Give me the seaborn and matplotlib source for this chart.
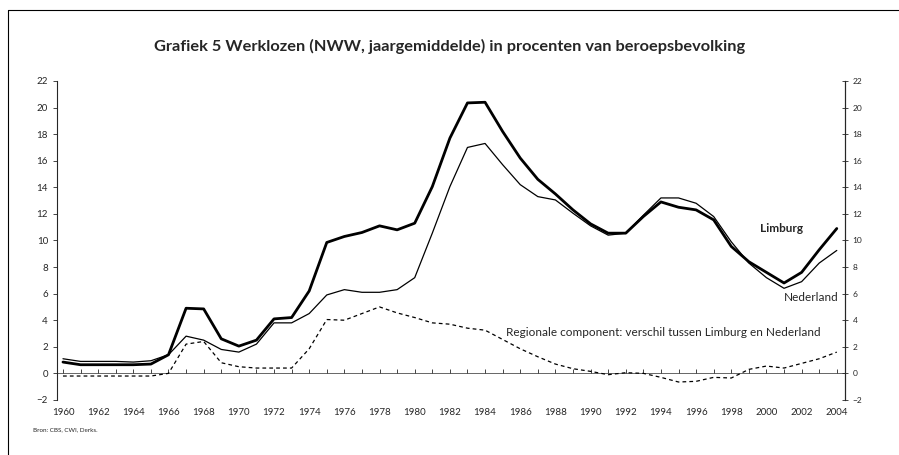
import pandas as pd
import numpy as np
import matplotlib.pyplot as plt
import seaborn as sns

# Data (% of labour force)
years = list(range(1960, 2005))
limburg = [0.85, 0.65, 0.65, 0.65, 0.65, 0.7, 1.4, 4.9, 4.85, 2.6,
           2.05, 2.5, 4.1, 4.2, 6.2, 9.85, 10.3, 10.6, 11.1, 10.8,
           11.3, 14.05, 17.7, 20.35, 20.4, 18.2, 16.2, 14.6, 13.5, 12.3,
           11.25, 10.55, 10.55, 11.8, 12.9, 12.5, 12.3, 11.55, 9.55, 8.4,
           7.6, 6.8, 7.6, 9.3, 10.9]
nederland = [1.1, 0.9, 0.9, 0.9, 0.85, 0.95, 1.4, 2.8, 2.5, 1.8,
             1.6, 2.2, 3.8, 3.8, 4.5, 5.9, 6.3, 6.1, 6.1, 6.3,
             7.2, 10.55, 14.05, 17.0, 17.3, 15.7, 14.2, 13.3, 13.05, 12.05,
             11.1, 10.4, 10.55, 11.9, 13.2, 13.2, 12.8, 11.8, 9.9, 8.3,
             7.2, 6.4, 6.9, 8.3, 9.25]
regionaal = [-0.2, -0.2, -0.2, -0.2, -0.2, -0.2, 0.0, 2.2, 2.4, 0.8,
             0.5, 0.4, 0.4, 0.4, 1.85, 4.05, 4.0, 4.5, 5.0, 4.55,
             4.2, 3.8, 3.7, 3.4, 3.25, 2.55, 1.85, 1.25, 0.7, 0.35,
             0.15, -0.1, 0.05, 0.0, -0.3, -0.65, -0.6, -0.3, -0.35, 0.3,
             0.55, 0.4, 0.75, 1.1, 1.6]
yticks = list(range(-2, 23, 2))
xticks = list(range(1960, 2005, 2))

df = pd.DataFrame({'jaar': years, 'Limburg': limburg,
                   'Nederland': nederland, 'Regionaal': regionaal})

sns.set_style('ticks')
plt.rcParams['font.family'] = ['Lato', 'DejaVu Sans']

fig = plt.figure(figsize=(8.99, 4.55), dpi=100)
ax = fig.add_axes([0.0634, 0.121, 0.8766, 0.701])

sns.lineplot(data=df, x='jaar', y='Limburg', color='black', lw=2.0, ax=ax)
sns.lineplot(data=df, x='jaar', y='Nederland', color='black', lw=0.9, ax=ax)
sns.lineplot(data=df, x='jaar', y='Regionaal', color='black', lw=0.9,
             ax=ax, linestyle=(0, (3, 2.5)))
ax.axhline(0, color='#666666', lw=0.7, zorder=0)

ax.set_xlim(1959.66, 2004.47)
ax.set_ylim(-2, 22)
ax.set_xlabel('')
ax.set_ylabel('')
ax.set_yticks(yticks)
ax.set_xticks(xticks)
ax.tick_params(axis='x', length=0, labelsize=7, pad=6)
ax.tick_params(axis='y', labelsize=7, length=3, width=0.6, direction='out')
for s in ['top', 'bottom']:
    ax.spines[s].set_visible(False)
ax.spines['left'].set_linewidth(0.8)
ax.spines['right'].set_linewidth(0.8)

# right axis mirror
ax2 = ax.twinx()
ax2.set_ylim(-2, 22)
ax2.set_yticks(yticks)
ax2.tick_params(axis='y', labelsize=6, length=4, width=0.6, direction='inout')
for s in ['top', 'bottom', 'left']:
    ax2.spines[s].set_visible(False)
ax2.spines['right'].set_linewidth(0.8)

# year ticks on zero line
sec = ax.secondary_xaxis(2 / 24)
sec.set_xticks(range(1960, 2005))
sec.tick_params(axis='x', length=3, width=0.6, direction='in', labelbottom=False)
sec.spines['bottom'].set_visible(False)

ax.text(2000.85, 10.9, 'Limburg', fontsize=8.5, fontweight='bold', ha='center', va='center')
ax.text(2004.1, 5.7, 'Nederland', fontsize=8.5, ha='right', va='center')
ax.text(1985.2, 3.1, 'Regionale component: verschil tussen Limburg en Nederland',
        fontsize=8.5, ha='left', va='center')

fig.text(0.5, 0.897, 'Grafiek 5 Werklozen (NWW, jaargemiddelde) in procenten van beroepsbevolking',
         ha='center', va='center', fontsize=11.8, fontweight='bold')
fig.text(0.037, 0.055, 'Bron: CBS, CWI, Derks.', fontsize=4.5, ha='left', va='center')

# scanned frame lines
fig.add_artist(plt.Line2D([0.009, 1.0], [0.978, 0.978], color='black', lw=0.8))
fig.add_artist(plt.Line2D([0.009, 0.009], [0.0, 0.978], color='black', lw=0.8))

fig.savefig('out.png', dpi=100)
